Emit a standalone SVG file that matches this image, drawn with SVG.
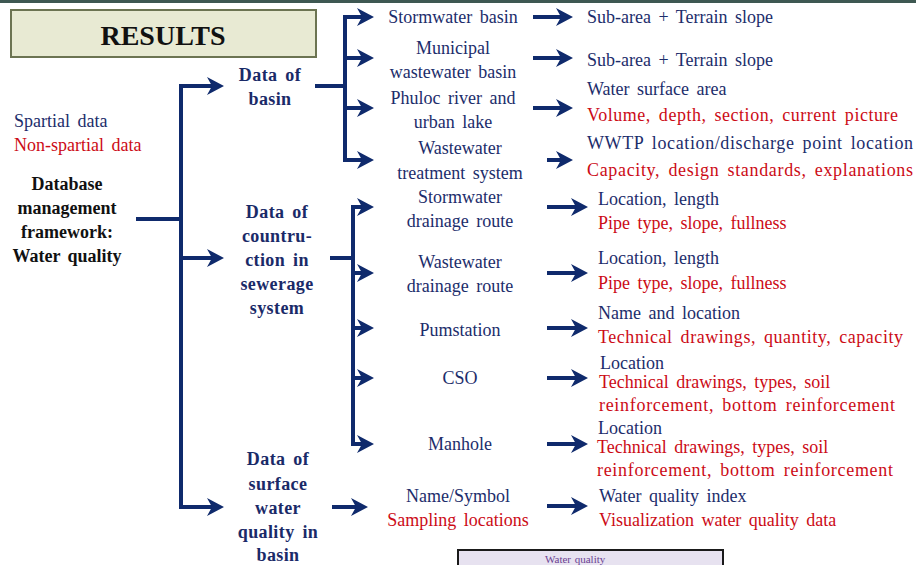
<svg xmlns="http://www.w3.org/2000/svg" width="916" height="565" viewBox="0 0 916 565">
<defs>
<marker id="ah" markerUnits="userSpaceOnUse" markerWidth="26" markerHeight="24" viewBox="-2 -12 26 24" refX="8" refY="0" orient="auto">
<path d="M1,-9 L18,0 L1,9 L6,0 Z" fill="#0f2a6c"/>
</marker>
</defs>
<rect x="0" y="0" width="916" height="565" fill="#ffffff"/>
<rect x="0" y="0" width="916" height="3" fill="#3e5852"/>

<g font-family="Liberation Serif, Times New Roman, serif" font-size="18" word-spacing="3">

<g id="results">
<rect x="11" y="10" width="305" height="47" fill="#e8ead3" stroke="#6c7452" stroke-width="2"/>
<text x="163" y="45" text-anchor="middle" font-weight="bold" font-size="28" word-spacing="0" fill="#111">RESULTS</text>
</g>

<g id="legend">
<text x="14" y="127" fill="#1c2d6b">Spartial data</text>
<text x="14" y="151" fill="#cc0b16">Non-spartial data</text>
</g>

<g id="root" text-anchor="middle" font-weight="bold" fill="#111">
<text x="67" y="190">Database</text>
<text x="67" y="214">management</text>
<text x="67" y="238">framework:</text>
<text x="67" y="262">Water quality</text>
</g>

<g id="basin" text-anchor="middle" font-weight="bold" fill="#1a2a68" letter-spacing="0.4">
<text x="270" y="81">Data of</text>
<text x="270" y="105">basin</text>
</g>

<g id="sewerage" text-anchor="middle" font-weight="bold" fill="#1a2a68" letter-spacing="0.4">
<text x="277" y="218">Data of</text>
<text x="277" y="242">countru-</text>
<text x="277" y="266">ction in</text>
<text x="277" y="290">sewerage</text>
<text x="277" y="314">system</text>
</g>

<g id="surface" text-anchor="middle" font-weight="bold" fill="#1a2a68" letter-spacing="0.4">
<text x="278" y="465">Data of</text>
<text x="278" y="490">surface</text>
<text x="278" y="514">water</text>
<text x="278" y="538">quality in</text>
<text x="278" y="561">basin</text>
</g>

<g id="stormwater-basin" text-anchor="middle" fill="#1c2d6b"><text x="453" y="23">Stormwater basin</text></g>
<g id="municipal-basin" text-anchor="middle" fill="#1c2d6b">
<text x="453" y="54">Municipal</text>
<text x="453" y="78">wastewater basin</text>
</g>
<g id="phuloc" text-anchor="middle" fill="#1c2d6b">
<text x="453" y="104">Phuloc river and</text>
<text x="453" y="128">urban lake</text>
</g>
<g id="wwtp" text-anchor="middle" fill="#1c2d6b">
<text x="460" y="154">Wastewater</text>
<text x="460" y="179">treatment system</text>
</g>

<g id="storm-route" text-anchor="middle" fill="#1c2d6b">
<text x="460" y="203">Stormwater</text>
<text x="460" y="227">drainage route</text>
</g>
<g id="waste-route" text-anchor="middle" fill="#1c2d6b">
<text x="460" y="268">Wastewater</text>
<text x="460" y="292">drainage route</text>
</g>
<g id="pumstation" text-anchor="middle" fill="#1c2d6b"><text x="460" y="336">Pumstation</text></g>
<g id="cso" text-anchor="middle" fill="#1c2d6b"><text x="460" y="384">CSO</text></g>
<g id="manhole" text-anchor="middle" fill="#1c2d6b"><text x="460" y="450">Manhole</text></g>
<g id="name-symbol" text-anchor="middle">
<text x="458" y="502" fill="#1c2d6b">Name/Symbol</text>
<text x="458" y="526" fill="#cc0b16">Sampling locations</text>
</g>

<g id="attr-storm-basin" fill="#1c2d6b"><text x="587" y="23">Sub-area + Terrain slope</text></g>
<g id="attr-muni-basin" fill="#1c2d6b"><text x="587" y="66">Sub-area + Terrain slope</text></g>
<g id="attr-phuloc">
<text x="587" y="95" fill="#1c2d6b">Water surface area</text>
<text x="587" y="121" fill="#cc0b16" textLength="311" lengthAdjust="spacing">Volume, depth, section, current picture</text>
</g>
<g id="attr-wwtp">
<text x="587" y="149" fill="#1c2d6b" textLength="326" lengthAdjust="spacing">WWTP location/discharge point location</text>
<text x="587" y="176" fill="#cc0b16" textLength="326" lengthAdjust="spacing">Capacity, design standards, explanations</text>
</g>
<g id="attr-storm-route">
<text x="598" y="205" fill="#1c2d6b">Location, length</text>
<text x="598" y="229" fill="#cc0b16">Pipe type, slope, fullness</text>
</g>
<g id="attr-waste-route">
<text x="598" y="264" fill="#1c2d6b">Location, length</text>
<text x="598" y="289" fill="#cc0b16">Pipe type, slope, fullness</text>
</g>
<g id="attr-pumstation">
<text x="598" y="319" fill="#1c2d6b">Name and location</text>
<text x="598" y="343" fill="#cc0b16" textLength="305" lengthAdjust="spacing">Technical drawings, quantity, capacity</text>
</g>
<g id="attr-cso">
<text x="600" y="369" fill="#1c2d6b">Location</text>
<text x="599" y="388" fill="#cc0b16">Technical drawings, types, soil</text>
<text x="599" y="411" fill="#cc0b16" textLength="296" lengthAdjust="spacing">reinforcement, bottom reinforcement</text>
</g>
<g id="attr-manhole">
<text x="598" y="434" fill="#1c2d6b">Location</text>
<text x="597" y="453" fill="#cc0b16">Technical drawings, types, soil</text>
<text x="597" y="476" fill="#cc0b16" textLength="296" lengthAdjust="spacing">reinforcement, bottom reinforcement</text>
</g>
<g id="attr-surface">
<text x="599" y="502" fill="#1c2d6b">Water quality index</text>
<text x="599" y="526" fill="#cc0b16">Visualization water quality data</text>
</g>

<g id="water-quality-box">
<rect x="458" y="550" width="265" height="20" fill="#e7e2f0" stroke="#1a1a1a" stroke-width="2"/>
<text x="545" y="563" font-size="11" word-spacing="1" fill="#6b3f92">Water quality</text>
</g>
</g>

<g id="connectors" stroke="#0f2a6c" stroke-width="4" fill="none">
<path stroke-linecap="square" d="M138,219 H181 M181,86 V507 M317,86 H345 M345,17 V160 M332,258 H353 M353,207 V444"/>
<g marker-end="url(#ah)">
<path d="M181,86 H214"/>
<path d="M181,258 H214"/>
<path d="M181,507 H214"/>
<path d="M345,17 H364"/>
<path d="M345,58 H364"/>
<path d="M345,108 H364"/>
<path d="M345,160 H364"/>
<path d="M533,17 H563"/>
<path d="M533,58 H563"/>
<path d="M533,108 H563"/>
<path d="M547,160 H563"/>
<path d="M353,207 H364"/>
<path d="M353,273 H364"/>
<path d="M353,328 H364"/>
<path d="M353,378 H364"/>
<path d="M353,444 H364"/>
<path d="M547,207 H578"/>
<path d="M547,273 H578"/>
<path d="M547,328 H578"/>
<path d="M547,378 H578"/>
<path d="M547,444 H578"/>
<path d="M332,507 H358"/>
<path d="M547,506 H578"/>
</g>
</g>
</svg>
